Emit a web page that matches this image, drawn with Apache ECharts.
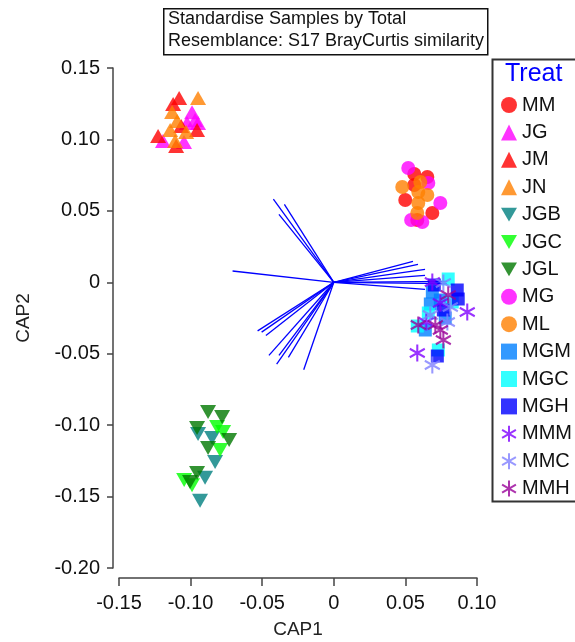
<!DOCTYPE html>
<html>
<head>
<meta charset="utf-8">
<script src="https://cdn.jsdelivr.net/npm/echarts@6/dist/echarts.min.js"></script>
<style>html,body{margin:0;padding:0;background:#fff;}#c{width:575px;height:642px;}</style>
</head>
<body>
<div id="c"></div>
<script>
// ---- data ----
const groupNames = ['MM','JG','JM','JN','JGB','JGC','JGL','MG','ML','MGM','MGC','MGH','MMM','MMC','MMH'];
const MM  = [[0.0562,0.0758],[0.0653,0.0737],[0.0499,0.0576],[0.0688,0.0485],[0.0583,0.0436],[0.0562,0.0681]];
const JG  = [[-0.0969,0.1136],[-0.1025,0.1115],[-0.0948,0.1115],[-0.1193,0.0989],[-0.1046,0.0982],[-0.0990,0.1190]];
const JM  = [[-0.1080,0.1290],[-0.1122,0.1248],[-0.1227,0.1024],[-0.1066,0.1094],[-0.0955,0.1066],[-0.1101,0.0954]];
const JN  = [[-0.0948,0.1290],[-0.1129,0.1192],[-0.1094,0.1129],[-0.1108,0.0989],[-0.1031,0.1052],[-0.1143,0.1066]];
const JGB = [[-0.0948,-0.1062],[-0.0850,-0.1090],[-0.0829,-0.1258],[-0.0899,-0.1369],[-0.0934,-0.1530]];
const JGC = [[-0.0815,-0.1013],[-0.0773,-0.1048],[-0.0794,-0.1174],[-0.1045,-0.1384],[-0.0990,-0.1420]];
const JGL = [[-0.0878,-0.0908],[-0.0780,-0.0943],[-0.0955,-0.1020],[-0.0731,-0.1104],[-0.0878,-0.1160],[-0.0955,-0.1335],[-0.1004,-0.1398]];
const MG  = [[0.0520,0.0800],[0.0660,0.0695],[0.0744,0.0555],[0.0618,0.0422],[0.0540,0.0436]];
const ML  = [[0.0478,0.0667],[0.0590,0.0632],[0.0653,0.0611],[0.0590,0.0555],[0.0583,0.0485],[0.0604,0.0702]];
const MGM = [[0.0688,-0.0068],[0.0674,-0.0152],[0.0744,-0.0124],[0.0639,-0.0334],[0.0778,-0.0250]];
const MGC = [[0.0799,0.0023],[0.0660,-0.0215],[0.0583,-0.0306],[0.0730,-0.0474],[0.0827,-0.0138]];
const MGH = [[0.0862,-0.0054],[0.0869,-0.0117],[0.0723,-0.0516],[0.0765,-0.0194],[0.0702,-0.0019]];
const MMM = [[0.0688,0.0002],[0.0744,-0.0145],[0.0932,-0.0208],[0.0583,-0.0495],[0.0646,-0.0278]];
const MMC = [[0.0765,-0.0005],[0.0814,-0.0173],[0.0674,-0.0229],[0.0793,-0.0278],[0.0688,-0.0579]];
const MMH = [[0.0799,-0.0089],[0.0590,-0.0299],[0.0709,-0.0299],[0.0744,-0.0334],[0.0765,-0.0404]];
// vector overlay endpoints (from origin)
const vectorEnds = [
  [-0.0422,0.0582],[-0.0345,0.0545],[-0.0383,0.0475],[-0.0707,0.0079],
  [-0.0532,-0.0340],[-0.0504,-0.0349],[-0.0474,-0.0372],[-0.0453,-0.0512],
  [-0.0383,-0.0512],[-0.0399,-0.0573],[-0.0317,-0.0526],[-0.0210,-0.0612],
  [0.0553,0.0147],[0.0588,0.0126],[0.0637,0.0091],[0.0637,0.0049],
  [0.0790,0.0007],[0.0790,-0.0010],[0.0637,-0.0049]
];
const xTickLabels = ['-0.15','-0.10','-0.05','0','0.05','0.10'];
const yTickLabels = ['-0.20','-0.15','-0.10','-0.05','0','0.05','0.10','0.15'];
const titleLines = ['Standardise Samples by Total','Resemblance: S17 BrayCurtis similarity'];

// ---- styles ----
const FONT = 'Liberation Sans, Arial, sans-serif';
const ASTER = 'path://M0,-10 L0,10 M-8.66,-5 L8.66,5 M-8.66,5 L8.66,-5';
const DOWN = 'path://M0,0 L10,0 L5,8.66 Z';
const style = {
  MM:{c:'#ff0000',s:'circle',z:[14,14]},
  JG:{c:'#ff00ff',s:'triangle',z:[16,14]},
  JM:{c:'#ff0000',s:'triangle',z:[16,14]},
  JN:{c:'#ff8000',s:'triangle',z:[16,14]},
  JGB:{c:'#008080',s:DOWN,z:[16,14]},
  JGC:{c:'#00ff00',s:DOWN,z:[16,14]},
  JGL:{c:'#007800',s:DOWN,z:[16,14]},
  MG:{c:'#ff00ff',s:'circle',z:[14,14]},
  ML:{c:'#ff8000',s:'circle',z:[14,14]},
  MGM:{c:'#0080ff',s:'rect',z:[13,13]},
  MGC:{c:'#00ffff',s:'rect',z:[13,13]},
  MGH:{c:'#0000ff',s:'rect',z:[13,13]},
  MMM:{c:'#8000ff',s:ASTER,z:[15,17],a:true},
  MMC:{c:'#8080ff',s:ASTER,z:[15,17],a:true},
  MMH:{c:'#990099',s:ASTER,z:[15,17],a:true}
};
const groupData = {MM,JG,JM,JN,JGB,JGC,JGL,MG,ML,MGM,MGC,MGH,MMM,MMC,MMH};

const chart = echarts.init(document.getElementById('c'), null, {renderer:'canvas'});
const xMin=-0.15, xMax=0.10, yMin=-0.20, yMax=0.15, step=0.05;

const series = [{
  type:'lines', coordinateSystem:'cartesian2d', z:1, silent:true,
  lineStyle:{color:'#0000ff', width:1.3, opacity:1},
  data: vectorEnds.map(e => ({coords:[[0,0], e]}))
}];
groupNames.forEach((g,i) => {
  const st = style[g];
  series.push({
    name:g, type:'scatter', z:2+i,
    symbol: st.s, symbolSize: st.z,
    itemStyle: st.a ? {color:st.c, borderColor:st.c, borderWidth:2.2} : {color:st.c},
    data: groupData[g]
  });
});

chart.setOption({
  animation:false,
  backgroundColor:'#fff',
  grid:{left:119, right:98, top:68, bottom:74, containLabel:false, outerBoundsMode:'none'},
  xAxis:{
    type:'value', min:xMin, max:xMax, interval:step, offset:10,
    name:'CAP1', nameLocation:'middle', nameGap:42,
    nameTextStyle:{fontFamily:FONT, fontSize:19, color:'#222'},
    axisLine:{show:true, onZero:false, lineStyle:{color:'#444', width:1.5}},
    axisTick:{show:true, inside:false, length:8, lineStyle:{color:'#444', width:1.5}},
    axisLabel:{fontFamily:FONT, fontSize:20, color:'#111', margin:15,
      formatter:v => xTickLabels[Math.round((v - xMin)/step)]},
    splitLine:{show:false}
  },
  yAxis:{
    type:'value', min:yMin, max:yMax, interval:step, offset:6,
    name:'CAP2', nameLocation:'middle', nameGap:80, nameRotate:90,
    nameTextStyle:{fontFamily:FONT, fontSize:19, color:'#222'},
    axisLine:{show:true, onZero:false, lineStyle:{color:'#444', width:1.5}},
    axisTick:{show:true, inside:false, length:6, lineStyle:{color:'#444', width:1.5}},
    axisLabel:{fontFamily:FONT, fontSize:20, color:'#111', margin:13,
      formatter:v => yTickLabels[Math.round((v - yMin)/step)]},
    splitLine:{show:false}
  },
  legend:{
    data: groupNames, orient:'vertical', left:496, top:90,
    itemWidth:16, itemHeight:16, itemGap:7.4,
    textStyle:{fontFamily:FONT, fontSize:20, color:'#111'},
    selectedMode:false
  },
  graphic:[
    {type:'rect', left:163, top:8, z:10, shape:{width:324, height:46},
      style:{fill:'#fff', stroke:'#111', lineWidth:1.5}},
    {type:'text', left:168, top:10, z:11,
      style:{text:titleLines[0], font:'18px '+FONT, fill:'#111'}},
    {type:'text', left:168, top:32, z:11,
      style:{text:titleLines[1], font:'18px '+FONT, fill:'#111'}},
    {type:'rect', left:490, top:57, z:0, shape:{width:84, height:442},
      style:{fill:'none', stroke:'#333', lineWidth:2}},
    {type:'text', left:505, top:62, z:11,
      style:{text:'Treat', font:'25px '+FONT, fill:'#0000ff'}}
  ],
  series: series
});
</script>
</body>
</html>
